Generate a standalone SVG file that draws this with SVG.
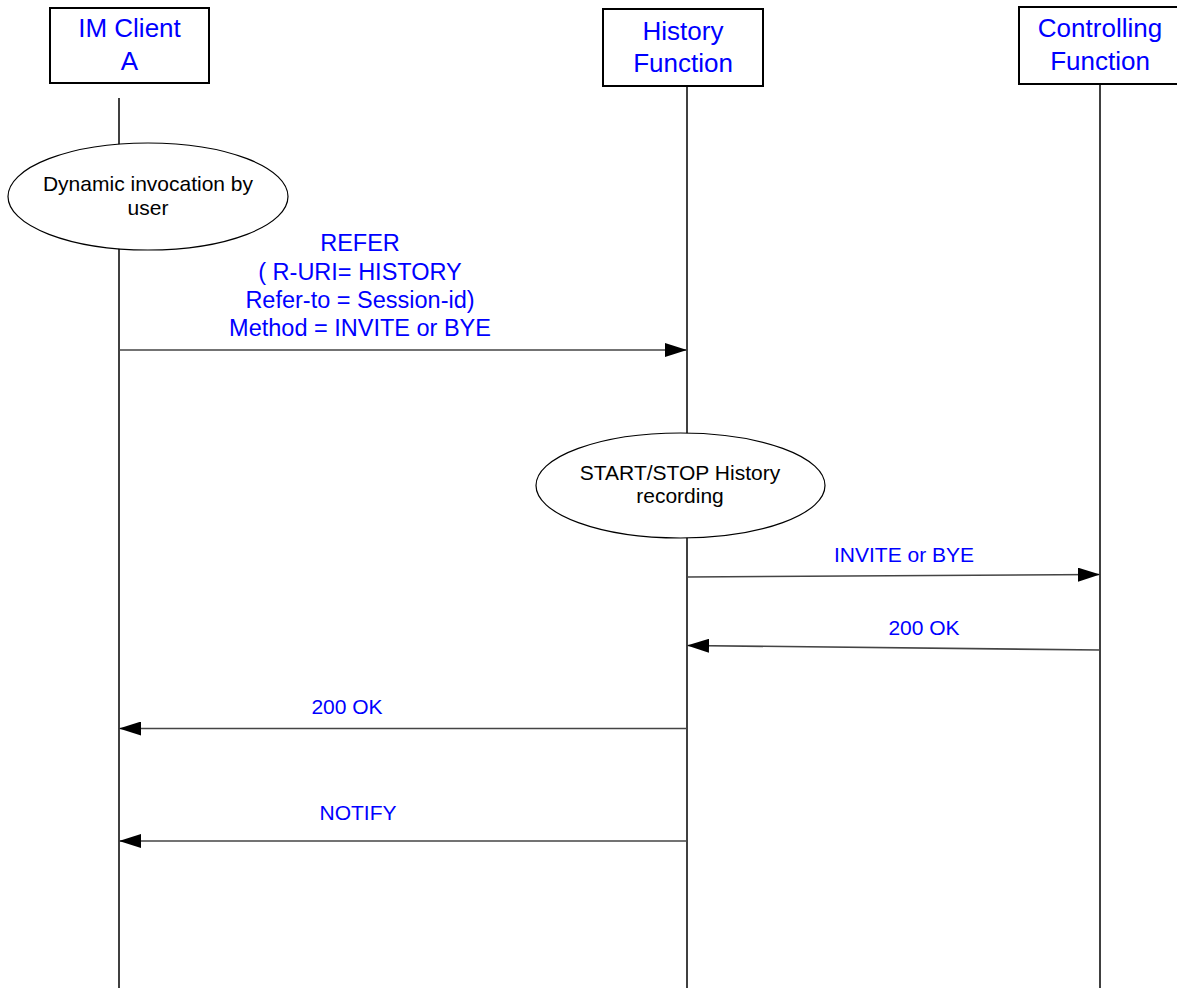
<svg xmlns="http://www.w3.org/2000/svg" width="1177" height="988" viewBox="0 0 1177 988">
<style>
.box{fill:#fff;stroke:#000;stroke-width:2}
.life{stroke:#000;stroke-width:1.5;fill:none}
.ell{fill:#fff;stroke:#000;stroke-width:1.2}
.msg{stroke:#444;stroke-width:1.6;fill:none;marker-end:url(#ah)}
.hd{font-family:"Liberation Sans",Arial,sans-serif;font-size:26px;fill:#0000ff;text-anchor:middle}
.lb{font-family:"Liberation Sans",Arial,sans-serif;font-size:21px;fill:#0000ff;text-anchor:middle}
.rf{font-family:"Liberation Sans",Arial,sans-serif;font-size:23.5px;fill:#0000ff;text-anchor:middle}
.et{font-family:"Liberation Sans",Arial,sans-serif;font-size:21px;fill:#000;text-anchor:middle}
</style>
<defs>
<marker id="ah" viewBox="0 0 22 14" refX="22" refY="7" markerWidth="22" markerHeight="14" markerUnits="userSpaceOnUse" orient="auto">
<path d="M0,0 L22,7 L0,14 z" fill="#000"/>
</marker>
</defs>
<rect width="1177" height="988" fill="#fff"/>
<g id="lifelines">
<line class="life" x1="119" y1="98" x2="119" y2="988"/>
<line class="life" x1="687" y1="86" x2="687" y2="988"/>
<line class="life" x1="1100" y1="84" x2="1100" y2="988"/>
</g>
<g id="im-client">
<rect class="box" x="50" y="8" width="159" height="75"/>
<text class="hd" x="129.5" y="37">IM Client</text>
<text class="hd" x="129.5" y="70">A</text>
</g>
<g id="history-function">
<rect class="box" x="603" y="9" width="160" height="77"/>
<text class="hd" x="683" y="40">History</text>
<text class="hd" x="683" y="72">Function</text>
</g>
<g id="controlling-function">
<rect class="box" x="1019" y="7" width="162" height="77"/>
<text class="hd" x="1100" y="37">Controlling</text>
<text class="hd" x="1100" y="70">Function</text>
</g>
<g id="dynamic-invocation">
<ellipse class="ell" cx="148" cy="196.5" rx="140" ry="53.5"/>
<text class="et" x="148" y="191">Dynamic invocation by</text>
<text class="et" x="148" y="215">user</text>
</g>
<g id="start-stop">
<ellipse class="ell" cx="680.5" cy="485.5" rx="144.5" ry="52.5"/>
<text class="et" x="680" y="480">START/STOP History</text>
<text class="et" x="680" y="503">recording</text>
</g>
<g id="connectors">
<line class="msg" x1="119" y1="350" x2="687" y2="350"/>
<line class="msg" x1="687" y1="577" x2="1100" y2="574.5"/>
<line class="msg" x1="1100" y1="650" x2="687" y2="645.5"/>
<line class="msg" x1="687" y1="728.5" x2="119" y2="728.5"/>
<line class="msg" x1="687" y1="841" x2="119" y2="841"/>
</g>
<g id="labels">
<text class="rf" x="360" y="251">REFER</text>
<text class="rf" x="360" y="280">( R-URI= HISTORY</text>
<text class="rf" x="360" y="308">Refer-to = Session-id)</text>
<text class="rf" x="360" y="336">Method = INVITE or BYE</text>
<text class="lb" x="904" y="562">INVITE or BYE</text>
<text class="lb" x="924" y="635">200 OK</text>
<text class="lb" x="347" y="714">200 OK</text>
<text class="lb" x="358" y="820">NOTIFY</text>
</g>
</svg>
